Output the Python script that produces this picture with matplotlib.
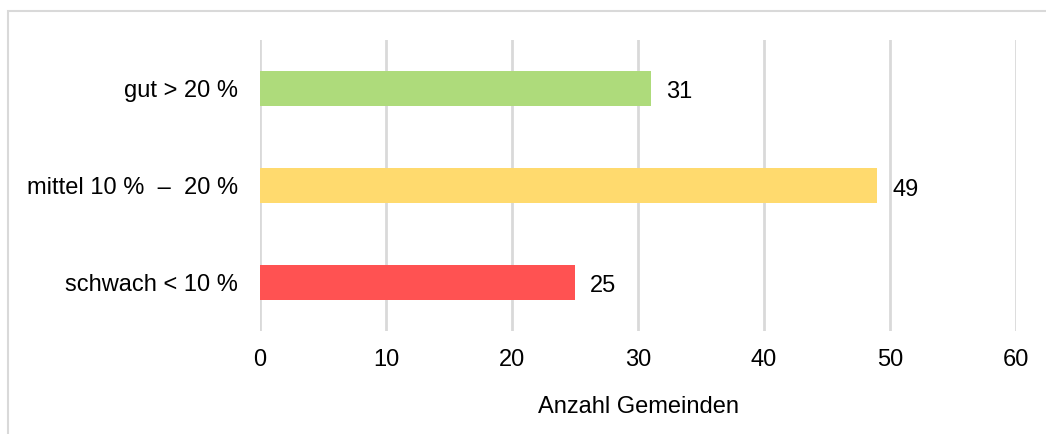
import matplotlib
matplotlib.use("Agg")
import matplotlib.pyplot as plt
from matplotlib.patches import Rectangle

categories = ["gut > 20 %", "mittel 10 %  \u2013  20 %", "schwach < 10 %"]
values = [31, 49, 25]
colors = ["#AEDB7B", "#FFDA6E", "#FF5252"]
xticks = [0, 10, 20, 30, 40, 50, 60]
xlabel = "Anzahl Gemeinden"

plt.rcParams['font.family'] = ['Liberation Sans', 'DejaVu Sans']

W, H = 1046, 434
fig = plt.figure(figsize=(W/100, H/100), dpi=100)
fig.patch.set_facecolor("white")

# outer frame
fig.patches.append(Rectangle((8/W, -0.1), 1.2, (H-11)/H + 0.1, transform=fig.transFigure,
                             fill=False, edgecolor="#D9D9D9", linewidth=1.5))

ax = fig.add_axes([260/W, (H-331)/H, (1016-260)/W, (331-40)/H])
ypos = list(range(len(categories)))
ax.barh(ypos, values, height=0.36, color=colors, zorder=3)
ax.set_ylim(len(categories)-0.5, -0.5)
ax.set_xlim(0, 60)
ax.set_xticks(xticks)
ax.set_yticks(ypos)
ax.set_yticklabels(categories)
ax.tick_params(axis='both', length=0, labelsize=17, colors="black")
ax.tick_params(axis='y', pad=16)
ax.tick_params(axis='x', pad=13)
for s in ax.spines.values():
    s.set_visible(False)
ax.grid(axis='x', color="#D9D9D9", linewidth=2, zorder=0)
ax.set_axisbelow(True)
ax.set_xlabel(xlabel, fontsize=17, labelpad=18)

for y, v in zip(ypos, values):
    ax.annotate(str(v), (v, y), xytext=(15, -4), textcoords='offset pixels',
                va='center', ha='left', fontsize=17)

fig.savefig("out.png", dpi=100, facecolor="white")
